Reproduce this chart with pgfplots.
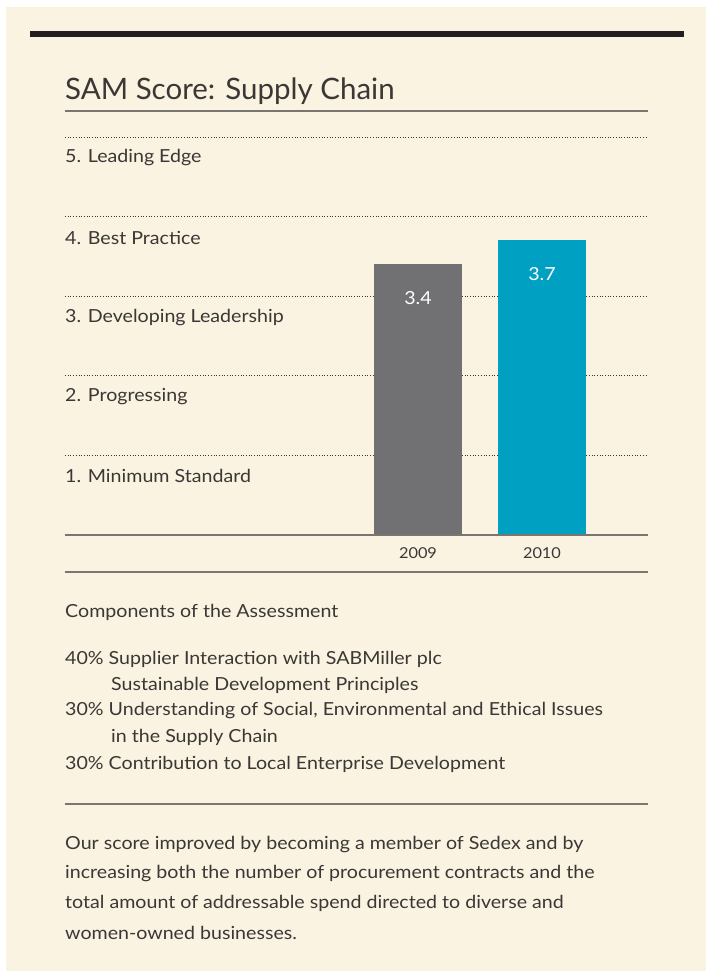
\documentclass[border=0pt]{standalone}
\usepackage{fontspec}
\setmainfont{Lato}
\newfontfamily\bodyfont{Lato}[FakeStretch=1.09]
\usepackage{pgfplots}
\pgfplotsset{compat=1.18}
\definecolor{cream}{RGB}{250,243,225}
\definecolor{barblack}{RGB}{35,31,32}
\definecolor{rulec}{RGB}{122,117,112}
\definecolor{txt}{RGB}{58,55,53}
\definecolor{gray09}{RGB}{113,112,115}
\definecolor{blue10}{RGB}{0,160,194}
\begin{document}
\begin{tikzpicture}[x=1pt,y=1pt]
\fill[white] (0,0) rectangle (706,-971);
\fill[cream] (6,-7) rectangle (706,-971);
\fill[barblack] (30,-31) rectangle (684,-37);
\node[anchor=west,inner sep=0,font=\fontsize{29.5}{32}\selectfont,text=txt] at (65,-91) {SAM Score: Supply Chain};
\draw[rulec,line width=1.5pt] (65,-111) -- (648,-111);
\begin{axis}[at={(65pt,-535pt)}, anchor=south west, scale only axis,
  width=583pt, height=398pt, xmin=-2.847, xmax=1.855, ymin=0, ymax=5,
  axis line style={draw=none}, ytick={1,2,3,4,5}, yticklabels={},
  ymajorgrids, grid style={txt, line width=0.9pt, dash pattern=on 0.9pt off 1.8pt},
  xtick={0,1}, xticklabels={2009,2010}, major tick length=0pt,
  xticklabel style={anchor=center, yshift=-18pt, font=\bodyfont\fontsize{15}{17}\selectfont, text=txt},
  /pgf/number format/assume math mode=true, clip=false]
\addplot[ybar, bar width=88pt, bar shift=0pt, fill=gray09, draw=none,
  nodes near coords, nodes near coords style={anchor=center, yshift=-34pt, text=white, font=\bodyfont\fontsize{18}{20}\selectfont}]
  coordinates {(0,3.4)};
\addplot[ybar, bar width=88pt, bar shift=0pt, fill=blue10, draw=none,
  nodes near coords, nodes near coords style={anchor=center, yshift=-34pt, text=white, font=\bodyfont\fontsize{18}{20}\selectfont}]
  coordinates {(1,3.7)};
\draw[rulec, line width=1.5pt] (rel axis cs:0,0) -- (rel axis cs:1,0);
\begin{scope}[every node/.style={anchor=west, inner sep=0, yshift=-21pt, font=\bodyfont\fontsize{18}{20}\selectfont, text=txt}]
\node at (rel axis cs:0,1) {5. Leading Edge};
\node at (rel axis cs:0,0.8) {4. Best Practice};
\node at (rel axis cs:0,0.6) {3. Developing Leadership};
\node at (rel axis cs:0,0.4) {2. Progressing};
\node at (rel axis cs:0,0.2) {1. Minimum Standard};
\end{scope}
\end{axis}
\draw[rulec,line width=1.5pt] (65,-572) -- (648,-572);
\begin{scope}[every node/.style={anchor=west, inner sep=0, font=\bodyfont\fontsize{18}{20}\selectfont, text=txt}]
\node at (65,-612) {Components of the Assessment};
\node at (65,-659) {40\% Supplier Interaction with SABMiller plc};
\node at (111,-685) {Sustainable Development Principles};
\node at (65,-711) {30\% Understanding of Social, Environmental and Ethical Issues};
\node at (111,-737) {in the Supply Chain};
\node at (65,-764) {30\% Contribution to Local Enterprise Development};
\node at (65,-845) {Our score improved by becoming a member of Sedex and by};
\node at (65,-874) {increasing both the number of procurement contracts and the};
\node at (65,-903) {total amount of addressable spend directed to diverse and};
\node at (65,-933) {women-owned businesses.};
\end{scope}
\draw[rulec,line width=1.2pt] (65,-804) -- (648,-804);
\end{tikzpicture}
\end{document}
